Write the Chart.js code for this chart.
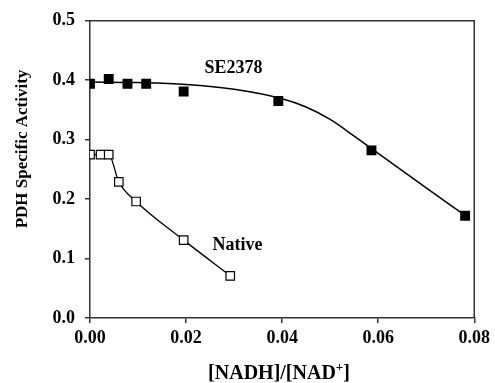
<!DOCTYPE html>
<html>
<head>
<meta charset="utf-8">
<script src="https://cdn.jsdelivr.net/npm/chart.js@4"></script>
<style>
  html, body { margin: 0; padding: 0; background: #fff; }
  #chart { display: block; }
</style>
</head>
<body>
<canvas id="chart" width="495" height="383"></canvas>
<script>
// SE2378 measured points
const se2378X = [0.0, 0.0039, 0.0078, 0.0117, 0.0195, 0.0392, 0.0586, 0.0781];
const se2378Y = [0.394, 0.402, 0.394, 0.394, 0.381, 0.365, 0.282, 0.172];

// SE2378 fitted curve
const fitX = [0.0, 0.01, 0.02, 0.03, 0.04, 0.045, 0.05, 0.055, 0.06, 0.07, 0.078];
const fitY = [0.397, 0.396, 0.393, 0.385, 0.369, 0.355, 0.334, 0.306, 0.277, 0.219, 0.173];

// Native points
const nativeX = [0.0, 0.0022, 0.0039, 0.0060, 0.0096, 0.0195, 0.0292];
const nativeY = [0.275, 0.275, 0.275, 0.229, 0.196, 0.131, 0.071];

const xTicks = [0.00, 0.02, 0.04, 0.06, 0.08];
const yTicks = [0.0, 0.1, 0.2, 0.3, 0.4, 0.5];

const serif = "'Liberation Serif', 'Times New Roman', serif";
const axisColor = '#333';

function toPoints(xs, ys) {
    return xs.map((x, i) => ({ x: x, y: ys[i] }));
}

// draws the frame, axis titles and series labels
const decorations = {
    id: 'decorations',
    afterDraw(chart) {
        const ctx = chart.ctx;
        const area = chart.chartArea;
        const xs = chart.scales.x;
        const ys = chart.scales.y;
        ctx.save();

        // frame (top and right sides)
        ctx.strokeStyle = axisColor;
        ctx.lineWidth = 1.5;
        ctx.beginPath();
        ctx.moveTo(area.left, area.top);
        ctx.lineTo(area.right, area.top);
        ctx.lineTo(area.right, area.bottom);
        ctx.stroke();

        ctx.fillStyle = '#000';
        ctx.textAlign = 'center';
        ctx.textBaseline = 'middle';

        // series labels
        ctx.font = 'bold 18px ' + serif;
        ctx.fillText('SE2378', xs.getPixelForValue(0.0299), ys.getPixelForValue(0.4205));
        ctx.fillText('Native', xs.getPixelForValue(0.0307), ys.getPixelForValue(0.1227));

        // y title
        ctx.save();
        ctx.translate(23, 149);
        ctx.rotate(-Math.PI / 2);
        ctx.font = 'bold 17px ' + serif;
        ctx.fillText('PDH Specific Activity', 0, 0);
        ctx.restore();

        // x title with superscript +
        ctx.font = 'bold 20px ' + serif;
        const part1 = '[NADH]/[NAD';
        const sup = '+';
        const part2 = ']';
        const w1 = ctx.measureText(part1).width;
        const w3 = ctx.measureText(part2).width;
        ctx.font = 'bold 13px ' + serif;
        const w2 = ctx.measureText(sup).width;
        const total = w1 + w2 + w3;
        let x0 = 279 - total / 2;
        const base = 379;
        ctx.textAlign = 'left';
        ctx.textBaseline = 'alphabetic';
        ctx.font = 'bold 20px ' + serif;
        ctx.fillText(part1, x0, base);
        ctx.font = 'bold 13px ' + serif;
        ctx.fillText(sup, x0 + w1, base - 8);
        ctx.font = 'bold 20px ' + serif;
        ctx.fillText(part2, x0 + w1 + w2, base);

        ctx.restore();
    }
};

new Chart(document.getElementById('chart'), {
    type: 'scatter',
    data: {
        datasets: [
            {
                label: 'SE2378',
                data: toPoints(se2378X, se2378Y),
                showLine: false,
                pointStyle: 'rect',
                pointRadius: 7,
                pointBackgroundColor: '#000',
                pointBorderColor: '#000',
                pointBorderWidth: 0,
                order: 1
            },
            {
                label: 'SE2378 fit',
                data: toPoints(fitX, fitY),
                showLine: true,
                borderColor: '#000',
                borderWidth: 1.5,
                cubicInterpolationMode: 'monotone',
                pointRadius: 0,
                order: 3
            },
            {
                label: 'Native',
                data: toPoints(nativeX, nativeY),
                showLine: true,
                borderColor: '#000',
                borderWidth: 1.3,
                cubicInterpolationMode: 'monotone',
                pointStyle: 'rect',
                pointRadius: 6,
                pointBackgroundColor: '#fff',
                pointBorderColor: '#000',
                pointBorderWidth: 1.2,
                order: 2
            }
        ]
    },
    options: {
        responsive: false,
        animation: false,
        layout: { padding: { top: 19, right: 17, left: 0, bottom: 0 } },
        plugins: {
            legend: { display: false },
            tooltip: { enabled: false }
        },
        scales: {
            x: {
                type: 'linear',
                min: xTicks[0],
                max: xTicks[xTicks.length - 1],
                afterBuildTicks: (scale) => { scale.ticks = xTicks.map(v => ({ value: v })); },
                afterFit: (scale) => { scale.height = 65; },
                ticks: {
                    callback: (v) => Number(v).toFixed(2),
                    color: '#000',
                    padding: 5,
                    maxRotation: 0,
                    font: { family: serif, size: 18, weight: 'bold' }
                },
                grid: {
                    drawOnChartArea: false,
                    color: axisColor,
                    tickLength: 5,
                    lineWidth: 1.5
                },
                border: { color: axisColor, width: 1.5 }
            },
            y: {
                type: 'linear',
                min: yTicks[0],
                max: yTicks[yTicks.length - 1],
                afterBuildTicks: (scale) => { scale.ticks = yTicks.map(v => ({ value: v })); },
                afterFit: (scale) => { scale.width = 90; },
                ticks: {
                    callback: (v) => Number(v).toFixed(1),
                    color: '#000',
                    padding: 10,
                    font: { family: serif, size: 18, weight: 'bold' }
                },
                grid: {
                    drawOnChartArea: false,
                    color: axisColor,
                    tickLength: 5,
                    lineWidth: 1.5
                },
                border: { color: axisColor, width: 1.5 }
            }
        }
    },
    plugins: [decorations]
});
</script>
</body>
</html>
